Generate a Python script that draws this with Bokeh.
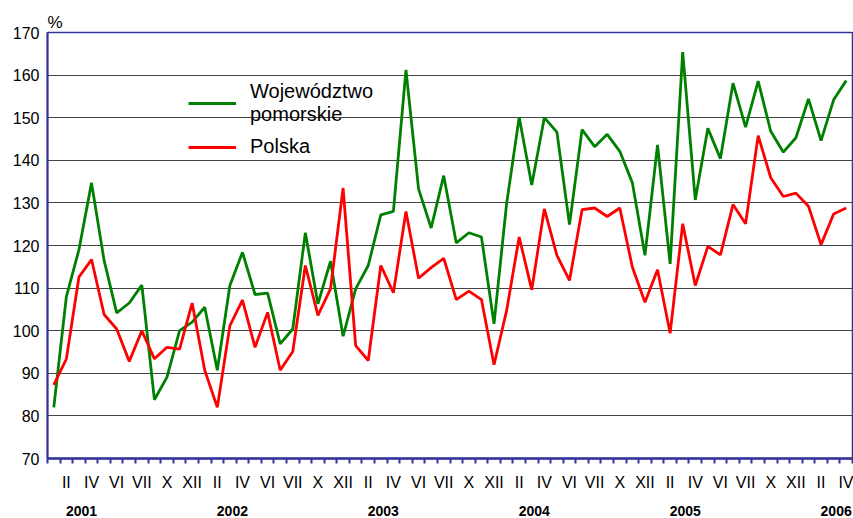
from bokeh.plotting import figure
from bokeh.models import FixedTicker, LinearAxis, Range1d, Legend, LegendItem
from bokeh.embed import file_html
from bokeh.resources import INLINE

# Monthly index, Jan 2001 .. Apr 2006
month_index = list(range(64))
pomorskie = [82.0, 108.0, 119.0, 134.7, 116.5, 104.2, 106.5, 110.7, 83.8, 89.1, 100.0, 102.0,
             105.5, 90.7, 110.6, 118.4, 108.5, 108.8, 96.9, 100.4, 123.0, 106.3, 116.3, 98.7,
             109.8, 115.3, 127.2, 128.0, 161.2, 133.3, 124.1, 136.4, 120.6, 123.0, 122.0, 101.6,
             129.8, 150.1, 134.2, 150.0, 146.6, 124.9, 147.2, 143.2, 146.1, 142.1, 134.7, 117.7,
             143.6, 115.7, 165.4, 130.7, 147.5, 140.4, 158.1, 147.8, 158.6, 146.8, 141.9, 145.3,
             154.4, 144.6, 154.2, 158.7]
polska = [87.3, 93.4, 112.6, 116.7, 103.8, 100.4, 92.8, 100.0, 93.4, 96.1, 95.7, 106.5,
          90.7, 82.0, 101.2, 107.2, 96.1, 104.3, 90.7, 95.1, 115.3, 103.6, 109.8, 133.5,
          96.5, 93.0, 115.3, 108.9, 128.0, 112.3, 114.8, 117.0, 107.3, 109.3, 107.3, 92.0,
          104.7, 122.0, 109.6, 128.6, 117.7, 111.8, 128.4, 128.8, 126.8, 128.8, 114.9, 106.7,
          114.3, 99.4, 125.1, 110.6, 119.8, 117.8, 129.6, 125.1, 145.8, 135.9, 131.5, 132.3,
          129.2, 120.2, 127.4, 128.8]
month_labels = ["II", "IV", "VI", "VII", "X", "XII"]
label_months = [2, 4, 6, 8, 10, 12]
years = ["2001", "2002", "2003", "2004", "2005", "2006"]
y_ticks = list(range(70, 171, 10))

NAVY = "#333399"
FONT = "Liberation Sans"

x_vals = [i + 0.5 for i in month_index]

p = figure(width=853, height=518, output_backend="svg", toolbar_location=None,
           x_range=Range1d(0, 64), y_range=Range1d(70, 170),
           min_border_left=47, min_border_right=1, min_border_top=32, min_border_bottom=60,
           x_axis_location=None)
p.outline_line_color = NAVY
p.outline_line_width = 1.5
p.background_fill_color = "white"
p.border_fill_color = "white"

p.title.text = "%"
p.title.align = "left"
p.title.offset = 0
p.title.standoff = 2
p.title.text_font = FONT
p.title.text_font_size = "17px"
p.title.text_font_style = "normal"
p.title.text_color = "black"

g = p.line(x_vals, pomorskie, line_color="#008000", line_width=2.8)
r = p.line(x_vals, polska, line_color="#ff0000", line_width=2.8)

# y axis
p.yaxis.ticker = FixedTicker(ticks=y_ticks)
p.yaxis.axis_line_color = NAVY
p.yaxis.axis_line_width = 2
p.yaxis.major_tick_out = 0
p.yaxis.major_tick_in = 0
p.yaxis.minor_tick_line_color = None
p.yaxis.major_label_standoff = 8
p.yaxis.major_label_text_font = FONT
p.yaxis.major_label_text_font_size = "16px"
p.yaxis.major_label_text_color = "black"

p.ygrid.ticker = FixedTicker(ticks=y_ticks)
p.ygrid.grid_line_color = "#444444"
p.ygrid.grid_line_width = 1
p.xgrid.grid_line_color = None

# month axis: minor ticks at month boundaries, labels at month centres
m_ticks = []
m_over = {}
for k in range(len(years)):
    for lab, m in zip(month_labels, label_months):
        pos = k * 12 + m - 0.5
        if pos < 64:
            m_ticks.append(pos)
            m_over[pos] = lab
xa = LinearAxis(ticker=FixedTicker(ticks=m_ticks, minor_ticks=list(range(0, 65))),
                major_label_overrides=m_over)
xa.axis_line_color = NAVY
xa.axis_line_width = 2.5
xa.major_tick_line_color = None
xa.major_tick_out = 0
xa.minor_tick_line_color = NAVY
xa.minor_tick_line_width = 2
xa.minor_tick_out = 5
xa.minor_tick_in = 0
xa.major_label_standoff = 10
xa.major_label_text_font = FONT
xa.major_label_text_font_size = "16px"
xa.major_label_text_color = "black"
p.add_layout(xa, "below")

# year axis
y_pos = [k * 12 + 2.7 for k in range(len(years))]
ya = LinearAxis(ticker=FixedTicker(ticks=y_pos),
                major_label_overrides={pos: yr for pos, yr in zip(y_pos, years)})
ya.axis_line_color = None
ya.major_tick_line_color = None
ya.minor_tick_line_color = None
ya.major_tick_out = 0
ya.major_label_standoff = 12
ya.major_label_text_font = FONT
ya.major_label_text_font_style = "bold"
ya.major_label_text_font_size = "14px"
ya.major_label_text_color = "black"
p.add_layout(ya, "below")

legend = Legend(items=[LegendItem(label="Województwo\npomorskie", renderers=[g]),
                       LegendItem(label="Polska", renderers=[r])],
                location=(141, 300), orientation="vertical")
legend.border_line_color = None
legend.background_fill_alpha = 0
legend.padding = 0
legend.margin = 0
legend.spacing = 9
legend.glyph_width = 48
legend.glyph_height = 20
legend.label_standoff = 14
legend.label_text_font = FONT
legend.label_text_font_size = "20px"
legend.label_text_line_height = 0.85
legend.label_text_color = "black"
p.add_layout(legend, "center")

open("out.html", "w").write(file_html(p, INLINE))
